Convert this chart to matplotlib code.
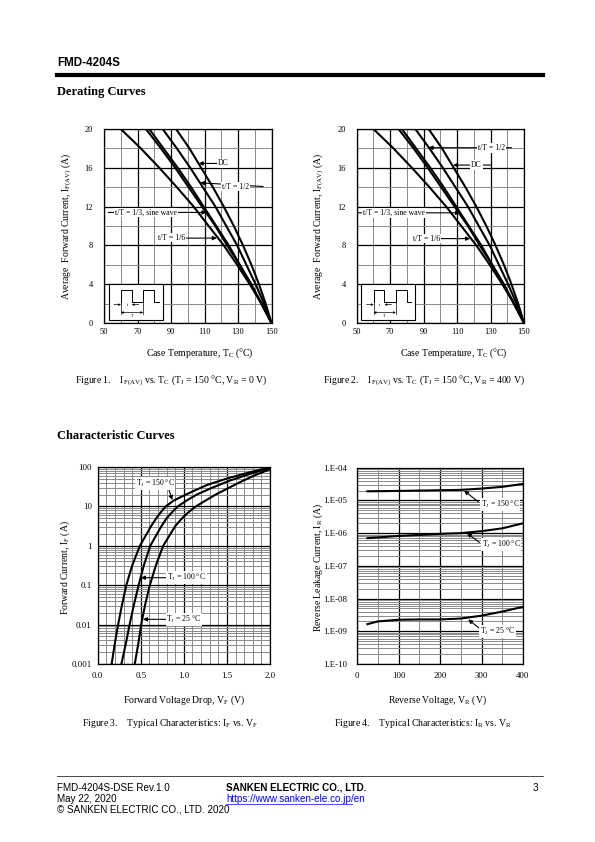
import matplotlib
matplotlib.use('Agg')
import matplotlib.pyplot as plt
import numpy as np
from matplotlib.patches import Rectangle
from matplotlib.lines import Line2D
from matplotlib.ticker import FixedLocator, LogLocator, NullFormatter

plt.rcParams['font.family'] = ['Liberation Serif', 'DejaVu Serif']
plt.rcParams['mathtext.fontset'] = 'custom'
plt.rcParams['mathtext.rm'] = 'Liberation Serif'
plt.rcParams['mathtext.it'] = 'Liberation Serif:italic'
plt.rcParams['mathtext.bf'] = 'Liberation Serif:bold'

# ---------------- data ----------------
# Derating curves (Figures 1 and 2): case temperature at each current level
derating_current = [20, 18, 16, 14, 12, 10, 8, 6, 4, 2, 0]
tc_t6 = [60, 72, 83, 93.5, 103.5, 112.5, 121.5, 129.5, 137, 144, 150]
tc_t3 = [75, 84, 92.5, 100.5, 108.5, 116.5, 123.5, 131, 137.5, 144, 150]
tc_sine = [77, 85.5, 94, 102, 109.5, 117, 124.5, 131, 138, 144, 150]
tc_t2 = [85, 93.5, 101.5, 109, 116.5, 123, 129.5, 135, 140.5, 145.5, 150]
tc_dc = [93, 101, 108, 115, 121.5, 127.5, 133, 138, 142.5, 146.5, 150]
derating_xticks = [50, 70, 90, 110, 130, 150]
derating_yticks = [0, 4, 8, 12, 16, 20]

# Figure 3: IF vs VF
vf_150 = [0.162, 0.197, 0.237, 0.282, 0.332, 0.40, 0.49, 0.62, 0.68, 0.73,
          0.79, 0.88, 0.98, 1.12, 1.27, 1.5, 1.75, 2.0]
if_150 = [0.001, 0.00316, 0.01, 0.0316, 0.1, 0.316, 1, 3.16, 5, 7,
          10, 14, 18, 25, 35, 51, 72, 98]
vf_100 = [0.275, 0.325, 0.37, 0.42, 0.475, 0.535, 0.61, 0.74, 0.80, 0.86,
          0.93, 1.03, 1.15, 1.30, 1.52, 1.76, 2.0]
if_100 = [0.001, 0.00316, 0.01, 0.0316, 0.1, 0.316, 1, 3.16, 5, 7,
          10, 14, 20, 28, 44, 66, 95]
vf_25 = [0.43, 0.47, 0.505, 0.55, 0.605, 0.675, 0.76, 0.90, 0.98, 1.05,
         1.14, 1.25, 1.37, 1.5, 1.64, 1.81, 2.0]
if_25 = [0.001, 0.00316, 0.01, 0.0316, 0.1, 0.316, 1, 3.16, 5, 7,
         10, 14, 20, 28, 40, 60, 88]
f3_xticks = [0.0, 0.5, 1.0, 1.5, 2.0]
f3_xlabels = ['0.0', '0.5', '1.0', '1.5', '2.0']
f3_yticks = [0.001, 0.01, 0.1, 1, 10, 100]
f3_ylabels = ['0.001', '0.01', '0.1', '1', '10', '100']

# Figure 4: IR vs VR
vr_150 = [25, 100, 200, 250, 300, 350, 400]
ir_150 = [1.9e-5, 1.95e-5, 2.05e-5, 2.1e-5, 2.3e-5, 2.6e-5, 3.2e-5]
vr_100 = [25, 100, 200, 250, 300, 350, 400]
ir_100 = [7.0e-7, 8.2e-7, 9.5e-7, 1.0e-6, 1.15e-6, 1.4e-6, 2.0e-6]
vr_25 = [25, 50, 100, 150, 200, 250, 300, 350, 400]
ir_25 = [1.65e-9, 2.0e-9, 2.25e-9, 2.3e-9, 2.3e-9, 2.45e-9, 3.0e-9, 4.0e-9, 5.6e-9]
f4_xticks = [0, 100, 200, 300, 400]
f4_yticks = [1e-10, 1e-9, 1e-8, 1e-7, 1e-6, 1e-5, 1e-4]
f4_ylabels = ['1.E-10', '1.E-09', '1.E-08', '1.E-07', '1.E-06', '1.E-05', '1.E-04']

# ---------------- figure ----------------
W, H = 595, 842
fig = plt.figure(figsize=(W / 100, H / 100), dpi=100)


def rect(l, t, r, b):
    return [l / W, 1 - b / H, (r - l) / W, (b - t) / H]


def ftext(x, y, s, **kw):
    return fig.text(x / W, 1 - y / H, s, **kw)


MAJ = dict(color='black', lw=0.9)
MIN = dict(color='#8a8a8a', lw=0.7)
ARROW = dict(arrowstyle='-|>', color='black', lw=0.8, mutation_scale=6,
             shrinkA=0, shrinkB=0)
BOX = dict(facecolor='white', edgecolor='none', pad=0.6)


def style_axes(ax, ysize, xpad, ypad):
    ax.set_axisbelow(True)
    ax.grid(which='minor', **MIN)
    ax.grid(which='major', **MAJ)
    ax.tick_params(which='both', length=0, labelsize=ysize)
    ax.tick_params(axis='x', pad=xpad)
    ax.tick_params(axis='y', pad=ypad)
    for s in ax.spines.values():
        s.set_linewidth(0.9)
        s.set_zorder(4)


def inset(ax, x0, y0, w, h):
    tr = ax.transAxes
    ax.add_patch(Rectangle((x0, y0), w, h, transform=tr, facecolor='white',
                           edgecolor='black', lw=0.8, zorder=5))
    sx = lambda f: x0 + f * w
    sy = lambda f: y0 + f * h
    xs = [0.23, 0.23, 0.43, 0.43, 0.64, 0.64, 0.84, 0.84, 0.93]
    ys = [0.50, 0.82, 0.82, 0.50, 0.50, 0.82, 0.82, 0.50, 0.50]
    ax.add_line(Line2D([sx(v) for v in xs], [sy(v) for v in ys], transform=tr,
                       color='black', lw=0.7, zorder=6))
    small = dict(arrowstyle='-|>', lw=0.5, color='black', mutation_scale=3,
                 shrinkA=0, shrinkB=0)
    ax.annotate('', xy=(sx(0.23), sy(0.42)), xytext=(sx(0.10), sy(0.42)),
                xycoords=tr, textcoords=tr, arrowprops=small, zorder=6)
    ax.annotate('', xy=(sx(0.43), sy(0.42)), xytext=(sx(0.56), sy(0.42)),
                xycoords=tr, textcoords=tr, arrowprops=small, zorder=6)
    ax.text(sx(0.33), sy(0.42), 't', transform=tr, fontsize=3.2,
            ha='center', va='center', zorder=6)
    for xv in (0.23, 0.64):
        ax.add_line(Line2D([sx(xv), sx(xv)], [sy(0.50), sy(0.15)], transform=tr,
                           color='black', lw=0.5, zorder=6))
    ax.annotate('', xy=(sx(0.23), sy(0.20)), xytext=(sx(0.64), sy(0.20)),
                xycoords=tr, textcoords=tr,
                arrowprops=dict(arrowstyle='<|-|>', lw=0.5, color='black',
                                mutation_scale=3, shrinkA=0, shrinkB=0), zorder=6)
    ax.text(sx(0.43), sy(0.10), 'T', transform=tr, fontsize=3.2,
            ha='center', va='center', zorder=6)


def derating(rect_px, ann):
    ax = fig.add_axes(rect(*rect_px))
    ax.set_xlim(50, 150)
    ax.set_ylim(0, 20)
    ax.set_xticks(derating_xticks)
    ax.set_xticklabels([str(v) for v in derating_xticks])
    ax.set_yticks(derating_yticks)
    ax.set_yticklabels([str(v) for v in derating_yticks])
    ax.xaxis.set_minor_locator(FixedLocator([60, 80, 100, 120, 140]))
    ax.yaxis.set_minor_locator(FixedLocator([2, 6, 10, 14, 18]))
    style_axes(ax, 6, 3.5, 8)
    for tc in (tc_t6, tc_t3, tc_sine, tc_t2, tc_dc):
        ax.plot(tc, derating_current, color='black', lw=1.5, zorder=3,
                solid_capstyle='butt')
    for label, tip, tail, tpos in ann:
        ax.annotate('', xy=tip, xytext=tail, arrowprops=ARROW, zorder=6)
        ax.text(tpos[0], tpos[1], label, fontsize=5.6, ha='center',
                va='center', bbox=BOX, zorder=7)
    inset(ax, 0.027, 0.017, 0.323, 0.185)
    return ax


ann1 = [
    ('DC', (106.5, 16.45), (119.0, 16.45), (121.3, 16.45)),
    ('t/T = 1/2', (107.4, 14.45), (145.0, 14.07), (128.6, 14.07)),
    ('t/T = 1/3, sine wave', (111.2, 11.4), (52.5, 11.4), (75.0, 11.4)),
    ('t/T = 1/6', (117.4, 8.75), (82.0, 8.75), (90.3, 8.8)),
]
ann2 = [
    ('t/T = 1/2', (92.9, 18.07), (142.6, 18.07), (130.7, 18.07)),
    ('DC', (107.6, 16.28), (130.7, 16.28), (121.7, 16.28)),
    ('t/T = 1/3, sine wave', (111.8, 11.36), (50.6, 11.36), (72.4, 11.36)),
    ('t/T = 1/6', (117.8, 8.7), (85.0, 8.7), (91.8, 8.7)),
]

derating((104, 129, 271.5, 323), ann1)
derating((356.7, 129, 524, 323), ann2)

# ---------- Figure 3 ----------
ax3 = fig.add_axes(rect(97.7, 467, 270, 664))
ax3.set_yscale('log')
ax3.set_xlim(0, 2.0)
ax3.set_ylim(0.001, 100)
ax3.set_xticks(f3_xticks)
ax3.set_xticklabels(f3_xlabels)
ax3.xaxis.set_minor_locator(FixedLocator(np.arange(0.1, 2.0, 0.1)))
ax3.set_yticks(f3_yticks)
ax3.set_yticklabels(f3_ylabels)
ax3.yaxis.set_minor_locator(LogLocator(base=10, subs=np.arange(2, 10)))
ax3.yaxis.set_minor_formatter(NullFormatter())
style_axes(ax3, 6.3, 5.5, 4.3)
for v, i in ((vf_150, if_150), (vf_100, if_100), (vf_25, if_25)):
    ax3.plot(v, i, color='black', lw=1.5, zorder=3)
ax3.text(0.665, 38.5, 'T$_{\\mathrm{J}}$ = 150 °C', fontsize=5.6, ha='center',
         va='center', bbox=BOX, zorder=7)
ax3.annotate('', xy=(0.865, 14.5), xytext=(0.82, 30), arrowprops=ARROW, zorder=6)
ax3.annotate('', xy=(0.50, 0.155), xytext=(0.82, 0.155), arrowprops=ARROW, zorder=6)
ax3.text(1.033, 0.155, 'T$_{\\mathrm{J}}$ = 100 °C', fontsize=5.6, ha='center',
         va='center', bbox=BOX, zorder=7)
ax3.annotate('', xy=(0.525, 0.0136), xytext=(0.82, 0.0136), arrowprops=ARROW, zorder=6)
ax3.text(1.0, 0.0136, 'T$_{\\mathrm{J}}$ = 25 °C', fontsize=5.6, ha='center',
         va='center', bbox=BOX, zorder=7)

# ---------- Figure 4 ----------
ax4 = fig.add_axes(rect(357, 467.7, 523, 664))
ax4.set_yscale('log')
ax4.set_xlim(0, 400)
ax4.set_ylim(1e-10, 1e-4)
ax4.set_xticks(f4_xticks)
ax4.set_xticklabels([str(v) for v in f4_xticks])
ax4.xaxis.set_minor_locator(FixedLocator([50, 150, 250, 350]))
ax4.set_yticks(f4_yticks)
ax4.set_yticklabels(f4_ylabels)
ax4.yaxis.set_minor_locator(LogLocator(base=10, subs=np.arange(2, 10)))
ax4.yaxis.set_minor_formatter(NullFormatter())
style_axes(ax4, 6.3, 5.5, 7.0)
for v, i in ((vr_150, ir_150), (vr_100, ir_100), (vr_25, ir_25)):
    ax4.plot(v, i, color='black', lw=1.5, zorder=3)
for lab, tip, tail, tpos in [
        ('T$_{\\mathrm{J}}$ = 150 °C', (258, 2.0e-5), (292, 9.1e-6), (345, 7.6e-6)),
        ('T$_{\\mathrm{J}}$ = 100 °C', (265, 1.0e-6), (295, 5.2e-7), (347, 4.6e-7)),
        ('T$_{\\mathrm{J}}$ = 25 °C', (268, 2.3e-9), (295, 1.23e-9), (339, 1.0e-9))]:
    ax4.annotate('', xy=tip, xytext=tail, arrowprops=ARROW, zorder=6)
    ax4.text(tpos[0], tpos[1], lab, fontsize=5.6, ha='center', va='center',
             bbox=BOX, zorder=7)

# ---------------- page texts ----------------
SANS = ['Liberation Sans', 'DejaVu Sans']
ftext(57, 63, 'FMD-4204S', family=SANS, fontweight='bold', fontsize=8.4,
      va='center', ha='left')
fig.add_artist(Line2D([57 / W, 543 / W], [1 - 75.3 / H, 1 - 75.3 / H],
                      color='black', lw=3.0, transform=fig.transFigure))
ftext(57, 92, 'Derating Curves', fontweight='bold', fontsize=9,
      va='center', ha='left')
ftext(57, 436, 'Characteristic Curves', fontweight='bold', fontsize=9,
      va='center', ha='left')

LAB = 7
ftext(67, 226, 'Average  Forward Current, I$_{\\mathrm{F(AV)}}$ (A)', fontsize=LAB,
      rotation=90, ha='center', va='center')
ftext(200, 353, 'Case Temperature, T$_{\\mathrm{C}}$ (°C)', fontsize=LAB,
      ha='center', va='center')
ftext(319, 226, 'Average  Forward Current, I$_{\\mathrm{F(AV)}}$ (A)', fontsize=LAB,
      rotation=90, ha='center', va='center')
ftext(454, 353, 'Case Temperature, T$_{\\mathrm{C}}$ (°C)', fontsize=LAB,
      ha='center', va='center')
ftext(75, 381, 'Figure 1.    I$_{\\mathrm{F(AV)}}$ vs. T$_{\\mathrm{C}}$ '
      '(T$_{\\mathrm{J}}$ = 150 °C, V$_{\\mathrm{R}}$ = 0 V)', fontsize=LAB,
      ha='left', va='center')
ftext(323, 381, 'Figure 2.    I$_{\\mathrm{F(AV)}}$ vs. T$_{\\mathrm{C}}$ '
      '(T$_{\\mathrm{J}}$ = 150 °C, V$_{\\mathrm{R}}$ = 400 V)', fontsize=LAB,
      ha='left', va='center')

ftext(65, 568, 'Forward Current, I$_{\\mathrm{F}}$ (A)', fontsize=LAB,
      rotation=90, ha='center', va='center')
ftext(184, 700, 'Forward Voltage Drop, V$_{\\mathrm{F}}$ (V)', fontsize=LAB,
      ha='center', va='center')
ftext(318, 567, 'Reverse Leakage Current, I$_{\\mathrm{R}}$ (A)', fontsize=LAB,
      rotation=90, ha='center', va='center')
ftext(437, 700, 'Reverse Voltage, V$_{\\mathrm{R}}$ (V)', fontsize=LAB,
      ha='center', va='center')
ftext(82, 723, 'Figure 3.    Typical Characteristics: I$_{\\mathrm{F}}$ vs. V$_{\\mathrm{F}}$',
      fontsize=LAB, ha='left', va='center')
ftext(334, 723, 'Figure 4.    Typical Characteristics: I$_{\\mathrm{R}}$ vs. V$_{\\mathrm{R}}$',
      fontsize=LAB, ha='left', va='center')

# footer
fig.add_artist(Line2D([57 / W, 543 / W], [1 - 776 / H, 1 - 776 / H],
                      color='black', lw=0.5, transform=fig.transFigure))
FS = 7.1
ftext(57, 788, 'FMD-4204S-DSE Rev.1.0', family=SANS, fontsize=FS, va='center')
ftext(57, 799, 'May 22, 2020', family=SANS, fontsize=FS, va='center')
ftext(57, 810, '© SANKEN ELECTRIC CO., LTD. 2020', family=SANS, fontsize=FS,
      va='center')
ftext(226, 788, 'SANKEN ELECTRIC CO., LTD.', family=SANS, fontsize=FS,
      fontweight='bold', va='center')
ftext(226, 799, 'https://www.sanken-ele.co.jp/en', family=SANS,
      fontsize=FS, color='#0000ff', va='center')
fig.add_artist(Line2D([226 / W, 352 / W], [1 - 804 / H, 1 - 804 / H],
                      color='#0000ff', lw=0.5, transform=fig.transFigure))
ftext(538, 788, '3', family=SANS, fontsize=FS, va='center', ha='right')

fig.savefig('out.png', dpi=100)
